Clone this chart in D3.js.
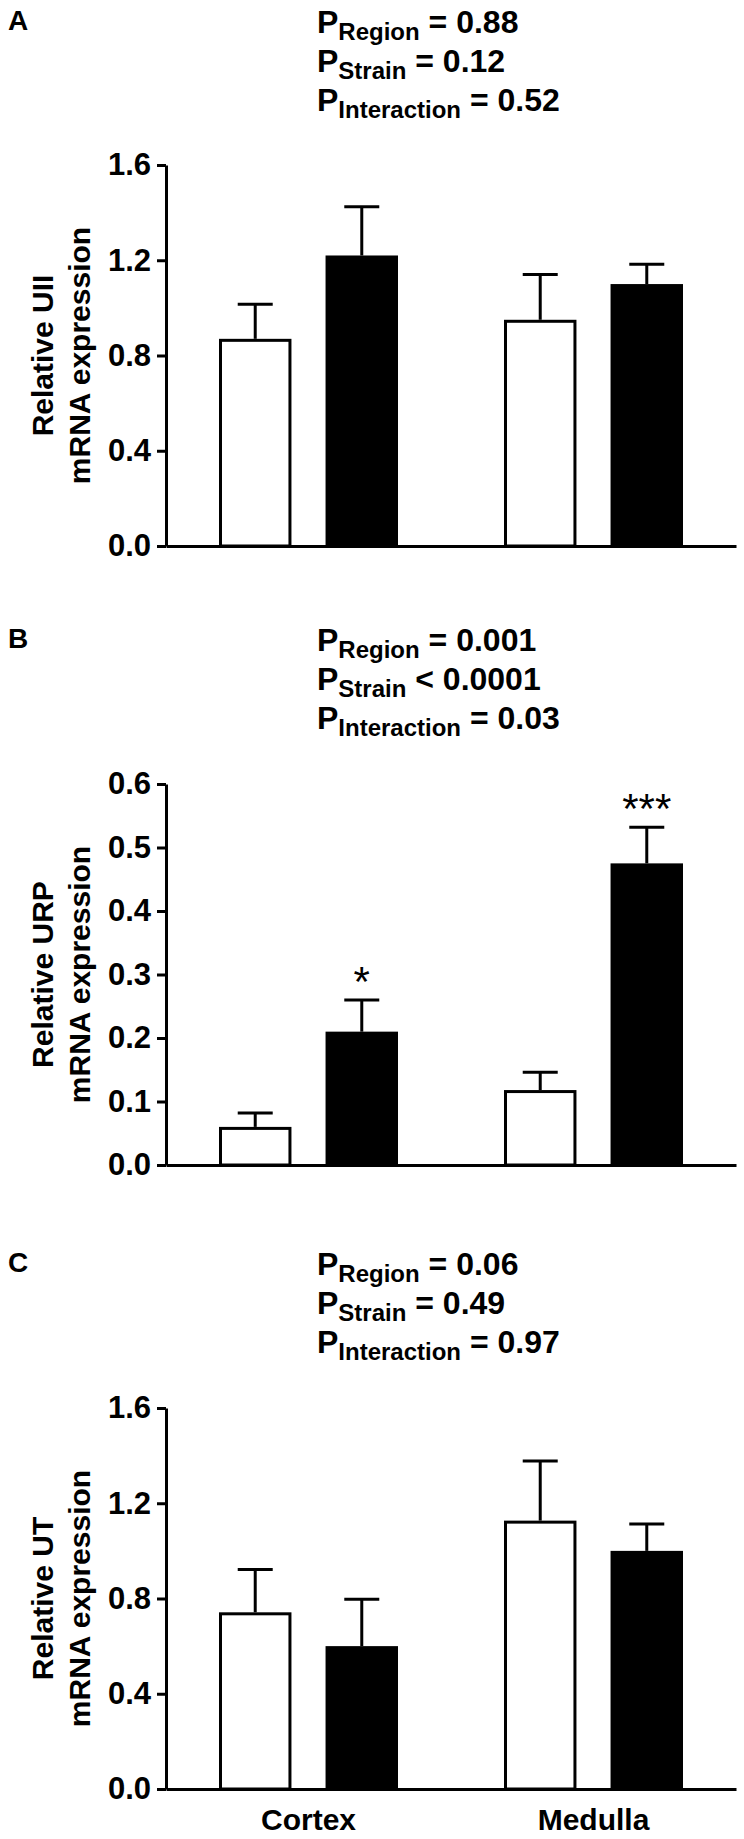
<!DOCTYPE html>
<html>
<head>
<meta charset="utf-8">
<script src="https://cdn.jsdelivr.net/npm/d3@7"></script>
<style>
  html, body { margin: 0; padding: 0; background: #fff; }
  svg { display: block; }
  text { font-family: "Liberation Sans", Arial, Helvetica, sans-serif; fill: #000; }
</style>
</head>
<body>
<svg id="chart" width="744" height="1839"></svg>
<script>
// ---------------- DATA ----------------
const regions = ["Cortex", "Medulla"];
const strains = ["WKY", "SHRSP"];

// Panel A: UII
const uiiWKY = [0.87, 0.95];
const uiiWKYsem = [0.145, 0.19];
const uiiSHRSP = [1.22, 1.10];
const uiiSHRSPsem = [0.205, 0.083];
const uiiTicks = [0.0, 0.4, 0.8, 1.2, 1.6];
const uiiStats = [["Region", "= 0.88"], ["Strain", "= 0.12"], ["Interaction", "= 0.52"]];

// Panel B: URP
const urpWKY = [0.06, 0.118];
const urpWKYsem = [0.022, 0.028];
const urpSHRSP = [0.21, 0.475];
const urpSHRSPsem = [0.05, 0.057];
const urpTicks = [0.0, 0.1, 0.2, 0.3, 0.4, 0.5, 0.6];
const urpStars = ["*", "***"];
const urpStats = [["Region", "= 0.001"], ["Strain", "< 0.0001"], ["Interaction", "= 0.03"]];

// Panel C: UT
const utWKY = [0.742, 1.127];
const utWKYsem = [0.18, 0.25];
const utSHRSP = [0.60, 1.00];
const utSHRSPsem = [0.197, 0.113];
const utTicks = [0.0, 0.4, 0.8, 1.2, 1.6];
const utStats = [["Region", "= 0.06"], ["Strain", "= 0.49"], ["Interaction", "= 0.97"]];

const panelLetters = ["A", "B", "C"];
const yLabels = [["Relative UII", "mRNA expression"], ["Relative URP", "mRNA expression"], ["Relative UT", "mRNA expression"]];

// ---------------- LAYOUT ----------------
const svg = d3.select("#chart");
const axisLeftX = 166, axisRightX = 736;
const plotH = 381;

const panels = [
  { letterY: 30, top: 165, ticks: uiiTicks, wky: uiiWKY, wkySem: uiiWKYsem, shr: uiiSHRSP, shrSem: uiiSHRSPsem, stats: uiiStats, stars: null },
  { letterY: 648, top: 784, ticks: urpTicks, wky: urpWKY, wkySem: urpWKYsem, shr: urpSHRSP, shrSem: urpSHRSPsem, stats: urpStats, stars: urpStars },
  { letterY: 1272, top: 1408, ticks: utTicks, wky: utWKY, wkySem: utWKYsem, shr: utSHRSP, shrSem: utSHRSPsem, stats: utStats, stars: null }
];

const x0 = d3.scaleBand().domain(regions).range([axisLeftX, axisRightX]);
const x1 = d3.scaleBand().domain(strains).range([53, 232]).paddingInner(0.32);
const fmt = d3.format(".1f");

panels.forEach((p, pi) => {
  const g = svg.append("g");
  const yMax = p.ticks[p.ticks.length - 1];
  const y = d3.scaleLinear().domain([0, yMax]).range([p.top + plotH, p.top]);

  // panel letter
  g.append("text").attr("x", 8).attr("y", p.letterY)
    .style("font-size", "28px").style("font-weight", "bold").text(panelLetters[pi]);

  // stats text
  p.stats.forEach((s, i) => {
    const t = g.append("text").attr("x", 317).attr("y", p.letterY + 3 + i * 39)
      .style("font-size", "32px").style("font-weight", "bold");
    t.append("tspan").text("P");
    t.append("tspan").style("font-size", "24px").attr("dy", 7).text(s[0]);
    t.append("tspan").attr("dy", -7).text(" " + s[1]);
  });

  // y label
  const cy = p.top + plotH / 2;
  yLabels[pi].forEach((lab, i) => {
    g.append("text")
      .attr("transform", `translate(${i === 0 ? 53 : 90},${cy}) rotate(-90)`)
      .attr("text-anchor", "middle")
      .style("font-size", "30px").style("font-weight", "bold")
      .text(lab);
  });

  // bars
  const rows = regions.map((r, i) => [
    { region: r, strain: strains[0], v: p.wky[i], e: p.wkySem[i], star: null },
    { region: r, strain: strains[1], v: p.shr[i], e: p.shrSem[i], star: p.stars ? p.stars[i] : null }
  ]).flat();

  const bars = g.selectAll("g.bar").data(rows).join("g").attr("class", "bar");
  const bx = d => x0(d.region) + x1(d.strain);
  const bw = x1.bandwidth();

  // error bars
  bars.append("line")
    .attr("x1", d => bx(d) + bw / 2).attr("x2", d => bx(d) + bw / 2)
    .attr("y1", d => y(d.v)).attr("y2", d => y(d.v + d.e))
    .attr("stroke", "#000").attr("stroke-width", 3);
  bars.append("line")
    .attr("x1", d => bx(d) + bw / 2 - 17.5).attr("x2", d => bx(d) + bw / 2 + 17.5)
    .attr("y1", d => y(d.v + d.e)).attr("y2", d => y(d.v + d.e))
    .attr("stroke", "#000").attr("stroke-width", 3);

  bars.append("rect")
    .attr("x", d => bx(d) + 1.5)
    .attr("width", bw - 3)
    .attr("y", d => y(d.v) + 1.5)
    .attr("height", d => y(0) - y(d.v) - 1.5)
    .attr("fill", d => d.strain === strains[0] ? "#fff" : "#000")
    .attr("stroke", "#000").attr("stroke-width", 3);

  bars.filter(d => d.star).append("text")
    .attr("x", d => bx(d) + bw / 2)
    .attr("y", d => y(d.v + d.e) - 4)
    .attr("text-anchor", "middle")
    .style("font-size", "42px").style("font-weight", "normal")
    .text(d => d.star);

  // y axis
  const yAxis = d3.axisLeft(y).tickValues(p.ticks).tickFormat(fmt).tickSize(9).tickSizeOuter(0).tickPadding(6);
  const ya = g.append("g").attr("transform", `translate(${axisLeftX},0)`).call(yAxis);
  ya.select(".domain").attr("stroke-width", 3);
  ya.selectAll(".tick line").attr("stroke-width", 3);
  ya.selectAll(".tick text").attr("font-family", null).attr("fill", "#000")
    .style("font-size", "31px").style("font-weight", "bold");

  // x axis
  const xAxis = d3.axisBottom(x0).tickSize(0).tickSizeOuter(0).tickPadding(20);
  const xa = g.append("g").attr("transform", `translate(0,${y(0)})`).call(xAxis);
  xa.select(".domain").attr("stroke-width", 3);
  xa.selectAll(".tick text").attr("font-family", null).attr("fill", "#000")
    .style("font-size", "30px").style("font-weight", "bold")
    .style("display", pi === 2 ? null : "none");
});
</script>
</body>
</html>
